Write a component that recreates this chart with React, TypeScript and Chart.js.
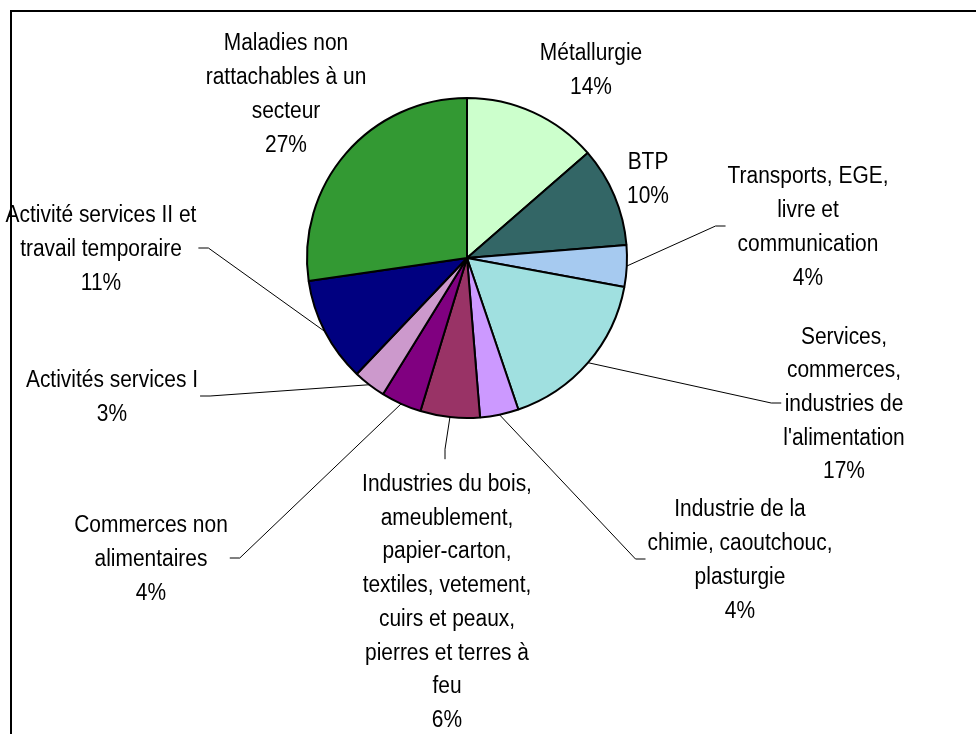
import React, { useEffect, useRef } from "react";
import { Chart, registerables } from "chart.js";

Chart.register(...registerables);

const categories = [
  "Métallurgie",
  "BTP",
  "Transports, EGE, livre et communication",
  "Services, commerces, industries de l'alimentation",
  "Industrie de la chimie, caoutchouc, plasturgie",
  "Industries du bois, ameublement, papier-carton, textiles, vetement, cuirs et peaux, pierres et terres à feu",
  "Commerces non alimentaires",
  "Activités services I",
  "Activité services II et travail temporaire",
  "Maladies non rattachables à un secteur",
];

const labelLines = [
  ["Métallurgie"],
  ["BTP"],
  ["Transports, EGE,", "livre et", "communication"],
  ["Services,", "commerces,", "industries de", "l'alimentation"],
  ["Industrie de la", "chimie, caoutchouc,", "plasturgie"],
  ["Industries du bois,", "ameublement,", "papier-carton,", "textiles, vetement,", "cuirs et peaux,", "pierres et terres à", "feu"],
  ["Commerces non", "alimentaires"],
  ["Activités services I"],
  ["Activité services II et", "travail temporaire"],
  ["Maladies non", "rattachables à un", "secteur"],
];

const values = [13.6, 10.1, 4.2, 16.9, 3.9, 6.0, 4.1, 3.3, 10.6, 27.3];

const colors = [
  "#CCFFCC",
  "#336666",
  "#A6CAF0",
  "#A0E0E0",
  "#CC99FF",
  "#993366",
  "#800080",
  "#CC99CC",
  "#000080",
  "#339933",
];

// label layout (block centre) and where the leader line attaches on the block
const labelCenterX = [591, 648, 808, 844, 740, 447, 151, 112, 101, 286];
const labelCenterY = [69, 178, 226, 403, 559, 601, 558, 396, 248, 93];
const leaderSide = ["none", "none", "left", "left", "left", "top", "right", "right", "right", "none"];

const FONT_SIZE = 23;
const SCALE_X = 0.91;
const LINE_H = 33.7;

const framePlugin = {
  id: "frame",
  beforeDraw(chart: any) {
    const ctx = chart.ctx;
    ctx.save();
    ctx.fillStyle = "#000";
    ctx.fillRect(10, 10, 966, 2);
    ctx.fillRect(10, 10, 2, 724);
    ctx.restore();
  },
};

const labelPlugin = {
  id: "pieLabels",
  afterDraw(chart: any) {
    const ctx = chart.ctx;
    const meta = chart.getDatasetMeta(0);
    ctx.save();
    ctx.font = `${FONT_SIZE}px "Liberation Sans", Arial, sans-serif`;
    ctx.fillStyle = "#000";
    ctx.strokeStyle = "#000";
    ctx.lineWidth = 1;
    ctx.textAlign = "center";
    ctx.textBaseline = "alphabetic";
    values.forEach((v, i) => {
      const lines = [...labelLines[i], Math.round(v) + "%"];
      const n = lines.length;
      const widths = lines.map((l) => ctx.measureText(l).width * SCALE_X);
      const maxW = Math.max(...widths);
      const cx = labelCenterX[i];
      const cy = labelCenterY[i];
      lines.forEach((l, k) => {
        const by = cy + (k - (n - 1) / 2) * LINE_H + 8;
        ctx.save();
        ctx.translate(cx, by);
        ctx.scale(SCALE_X, 1);
        ctx.fillText(l, 0, 0);
        ctx.restore();
      });
      const side = leaderSide[i];
      if (side === "none") return;
      const arc = meta.data[i];
      const p = arc.getProps(["x", "y", "startAngle", "endAngle", "outerRadius"], true);
      const mid = (p.startAngle + p.endAngle) / 2;
      const px = p.x + Math.cos(mid) * p.outerRadius;
      const py = p.y + Math.sin(mid) * p.outerRadius;
      let ex = cx, ey = cy, kx = cx, ky = cy;
      if (side === "left") {
        ex = cx - maxW / 2 - 2;
        kx = ex - 10;
      } else if (side === "right") {
        ex = cx + maxW / 2 + 2;
        kx = ex + 10;
      } else {
        ex = cx - 2;
        ey = cy - (n * LINE_H) / 2 - 7;
        kx = ex;
        ky = ey - 10;
      }
      ctx.beginPath();
      ctx.moveTo(px, py);
      ctx.lineTo(kx, ky);
      ctx.lineTo(ex, ey);
      ctx.stroke();
    });
    ctx.restore();
  },
};

export default function App() {
  const ref = useRef<HTMLCanvasElement | null>(null);
  useEffect(() => {
    if (!ref.current) return;
    const chart = new Chart(ref.current, {
      type: "pie",
      data: {
        labels: categories,
        datasets: [
          {
            data: values,
            backgroundColor: colors,
            borderColor: "#000",
            borderWidth: 2,
          },
        ],
      },
      options: {
        responsive: false,
        animation: false,
        layout: { padding: { left: 306, right: 348, top: 97, bottom: 315 } },
        plugins: {
          legend: { display: false },
          tooltip: { enabled: false },
        },
      },
      plugins: [framePlugin, labelPlugin],
    });
    return () => chart.destroy();
  }, []);
  return (
    <div style={{ position: "absolute", left: 0, top: 0, width: 976, height: 734, background: "#fff" }}>
      <canvas ref={ref} width={976} height={734} style={{ display: "block" }} />
    </div>
  );
}
